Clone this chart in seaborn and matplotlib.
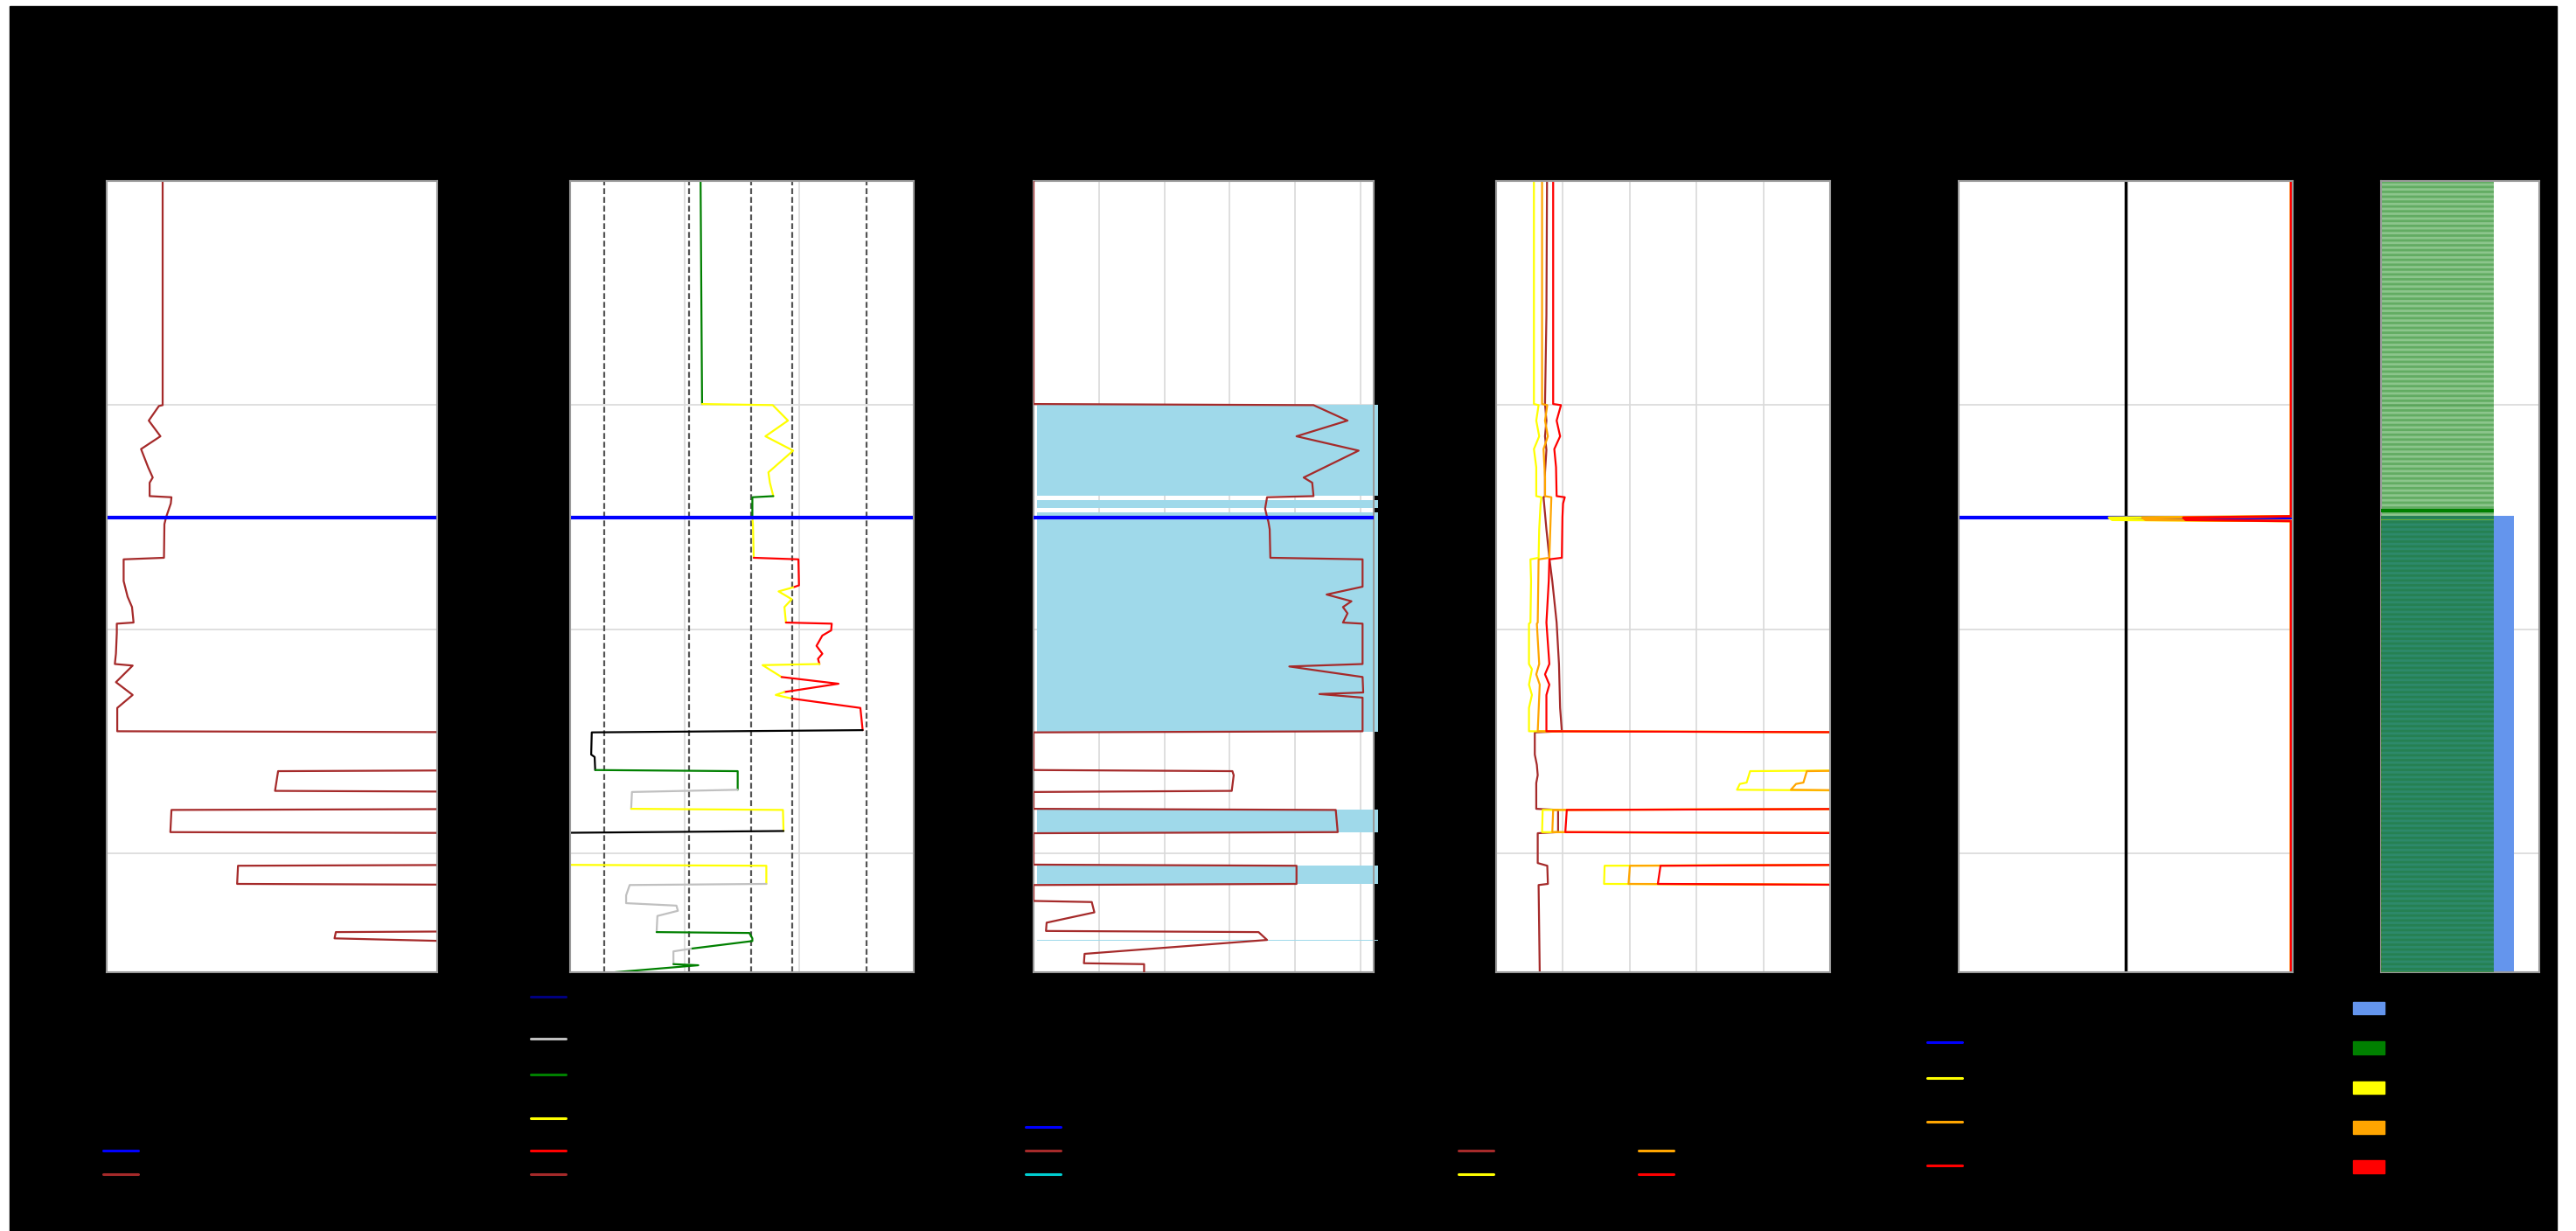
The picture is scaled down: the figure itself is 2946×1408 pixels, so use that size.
import numpy as np
import pandas as pd
import matplotlib
matplotlib.use("Agg")
import matplotlib.pyplot as plt
from matplotlib.lines import Line2D
from matplotlib.patches import Patch, Rectangle
import seaborn as sns

sns.set_style("whitegrid")
plt.rcParams["font.family"] = ["DejaVu Sans"]
plt.rcParams["hatch.linewidth"] = 2.0

# ---- depth frame ----
depth_top, depth_base = 1000.0, 1353.0
depth_grid = [1100, 1200, 1300]
marker_depth = 1150.0

# ---- track 1 : gamma ray ----
gr_depth = [1000.0, 1100.0, 1100.4, 1106.9, 1113.9, 1119.6, 1127.7, 1132.3, 1134.6, 1140.6,
            1141.1, 1143.9, 1149.9, 1153.1, 1168.1, 1168.8, 1178.5, 1185.5, 1190.1, 1197.0,
            1197.5, 1201.6, 1210.9, 1215.5, 1216.2, 1223.6, 1229.3, 1235.1, 1245.5, 1246.0,
            1262.8, 1263.3, 1272.1, 1272.6, 1280.1, 1280.6, 1290.5, 1291.0, 1305.0, 1305.5,
            1313.6, 1314.1, 1334.6, 1335.1, 1337.9, 1340.2, 1353.0]
gr_value = [25.4, 25.4, 23.7, 19.1, 24.4, 15.6, 18.8, 20.9, 19.5, 19.5,
            29.4, 29.1, 27.0, 26.2, 26.0, 7.7, 7.7, 9.5, 11.5, 12.2,
            4.6, 4.6, 4.2, 3.7, 11.8, 4.2, 11.8, 4.8, 4.8, 200,
            200, 77.8, 76.4, 200, 200, 29.4, 28.9, 200, 200, 59.6,
            59.2, 200, 200, 104.0, 103.4, 200, 200]

# ---- track 2 : resistivity coloured by class ----
res_depth = [1000.0, 1046.9, 1099.5, 1100.0, 1106.9, 1113.9, 1120.3, 1130.0, 1134.6, 1140.6,
             1141.1, 1149.9, 1153.1, 1168.1, 1168.8, 1180.4, 1181.3, 1183.1, 1186.6, 1190.1,
             1197.0, 1197.5, 1200.5, 1202.8, 1207.4, 1210.9, 1213.2, 1215.5, 1216.0, 1221.3,
             1224.3, 1228.0, 1229.3, 1230.9, 1235.1, 1245.0, 1246.0, 1255.9, 1257.0, 1262.8,
             1263.3, 1271.6, 1272.6, 1280.1, 1280.6, 1290.0, 1291.0, 1305.0, 1305.5, 1313.6,
             1314.1, 1318.7, 1322.2, 1323.3, 1325.6, 1327.9, 1335.1, 1335.5, 1337.9, 1339.1,
             1342.5, 1343.7, 1349.4, 1349.9, 1353.0]
res_value = [1.139, 1.145, 1.152, 1.769, 1.902, 1.705, 1.947, 1.731, 1.744, 1.774,
             1.591, 1.591, 1.596, 1.603, 1.993, 1.998, 1.947, 1.820, 1.935, 1.871,
             1.884, 2.284, 2.279, 2.202, 2.151, 2.202, 2.164, 2.177, 1.680, 1.846,
             2.343, 1.870, 1.795, 1.935, 2.534, 2.554, 0.189, 0.184, 0.214, 0.219,
             1.463, 1.463, 0.540, 0.533, 1.858, 1.863, -0.5, -0.5, 1.713, 1.713,
             0.520, 0.489, 0.489, 0.928, 0.941, 0.762, 0.755, 1.565, 1.591, 1.591,
             1.055, 0.902, 0.902, 1.119, 0.393]
res_class = ["green", "green", "yellow", "yellow", "yellow", "yellow", "yellow", "yellow", "yellow", "green",
             "green", "yellow", "yellow", "red", "red", "red", "yellow", "yellow", "yellow", "yellow",
             "red", "red", "red", "red", "red", "red", "red", "yellow", "yellow", "red",
             "red", "yellow", "yellow", "red", "red", "black", "black", "black", "black", "green",
             "green", "silver", "silver", "yellow", "yellow", "black", "yellow", "yellow", "yellow", "silver",
             "silver", "silver", "silver", "silver", "silver", "silver", "green", "green", "green", "green",
             "silver", "silver", "green", "green", "green"]
res_cutoffs = [0.30, 1.04, 1.58, 1.94, 2.59]

# ---- track 3 : porosity ----
phi_depth = [1000.0, 1099.5, 1100.0, 1106.9, 1113.9, 1120.3, 1132.3, 1134.6, 1140.6, 1141.1,
             1146.2, 1149.9, 1152.0, 1155.4, 1168.1, 1168.8, 1181.0, 1184.5, 1187.5, 1190.1,
             1192.9, 1197.0, 1197.5, 1215.5, 1216.6, 1221.3, 1228.2, 1228.9, 1230.5, 1245.5,
             1246.0, 1262.8, 1263.3, 1265.1, 1272.1, 1272.6, 1280.1, 1280.6, 1290.5, 1291.0,
             1305.0, 1305.5, 1313.6, 1314.1, 1321.2, 1321.7, 1326.3, 1330.9, 1334.6, 1335.1,
             1338.6, 1344.8, 1349.0, 1349.4, 1353.0]
phi_value = [0.0, 0.0, 0.428, 0.480, 0.402, 0.497, 0.413, 0.426, 0.428, 0.357,
             0.354, 0.357, 0.359, 0.361, 0.362, 0.503, 0.503, 0.448, 0.486, 0.473,
             0.480, 0.473, 0.503, 0.503, 0.391, 0.503, 0.504, 0.437, 0.503, 0.503,
             0.0, 0.0, 0.304, 0.306, 0.303, 0.0, 0.0, 0.462, 0.465, 0.0,
             0.0, 0.402, 0.402, 0.0, 0.0, 0.089, 0.093, 0.020, 0.019, 0.344,
             0.357, 0.078, 0.077, 0.169, 0.169]
phi_fill_top = [1100.0, 1142.5, 1148.0, 1280.6, 1305.5, 1338.4]
phi_fill_base = [1140.6, 1146.0, 1245.8, 1290.5, 1313.6, 1338.8]

# ---- track 4 : four saturation-type curves ----
vsh_depth = [1000.0, 1060.0, 1099.5, 1106.9, 1113.9, 1120.0, 1130.0, 1140.6, 1141.1, 1155.4,
             1168.1, 1178.5, 1197.0, 1215.5, 1235.1, 1245.5, 1246.0, 1255.9, 1260.5, 1265.1,
             1268.6, 1280.1, 1280.6, 1290.5, 1291.0, 1304.3, 1305.5, 1313.6, 1314.1, 1353.0]
vsh_value = [7.62, 7.53, 7.32, 7.53, 7.32, 7.53, 7.32, 7.32, 7.10, 7.53,
             7.97, 8.41, 9.06, 9.41, 9.58, 9.84, 5.79, 5.79, 6.10, 6.23,
             6.01, 6.01, 9.28, 9.28, 6.23, 6.23, 7.66, 7.75, 6.36, 6.53]
sw1_depth = [1000.0, 1099.5, 1100.0, 1106.9, 1113.9, 1119.6, 1127.7, 1140.6, 1141.1, 1143.9,
             1155.4, 1168.1, 1168.8, 1178.5, 1197.0, 1197.5, 1215.5, 1217.8, 1224.7, 1229.3,
             1235.1, 1245.5, 1246.0, 1262.8, 1263.3, 1268.4, 1269.0, 1271.6, 1272.1, 1280.1,
             1280.6, 1290.5, 1291.0, 1305.0, 1305.5, 1313.6, 1314.1, 1353.0]
sw1_value = [5.66, 5.66, 6.36, 6.01, 6.45, 5.66, 6.01, 6.01, 6.79, 6.66,
             6.45, 6.36, 5.14, 5.23, 5.14, 4.92, 4.92, 5.36, 4.92, 5.36,
             4.92, 4.92, 60, 60, 38.02, 37.5, 36.49, 36.06, 60, 60,
             6.97, 6.88, 60, 60, 16.24, 16.16, 60, 60]
sw2_depth = [1000.0, 1099.5, 1100.0, 1106.9, 1113.9, 1119.6, 1132.3, 1140.6, 1141.1, 1168.1,
             1168.8, 1197.0, 1197.5, 1215.5, 1220.1, 1224.7, 1245.5, 1246.0, 1262.8, 1263.3,
             1268.4, 1269.0, 1271.6, 1272.1, 1280.1, 1280.6, 1290.5, 1291.0, 1305.0, 1305.5,
             1313.6, 1314.1, 1353.0]
sw2_value = [6.88, 6.88, 7.66, 7.32, 7.75, 7.10, 7.32, 7.32, 8.27, 7.97,
             6.36, 6.23, 6.10, 6.45, 6.01, 6.53, 6.23, 60, 60, 46.51,
             46.0, 44.9, 44.12, 60, 60, 8.54, 8.41, 60, 60, 20.03,
             19.82, 60, 60]
sw3_depth = [1000.0, 1099.5, 1100.0, 1106.9, 1113.9, 1119.6, 1127.7, 1140.6, 1141.1, 1143.9,
             1149.9, 1168.1, 1168.8, 1178.5, 1197.0, 1215.5, 1220.1, 1224.7, 1229.3, 1245.5,
             1246.0, 1280.1, 1280.6, 1290.5, 1291.0, 1305.0, 1305.5, 1313.6, 1314.1, 1353.0]
sw3_value = [8.54, 8.54, 9.71, 9.06, 9.58, 8.71, 8.97, 9.06, 10.28, 10.02,
             9.93, 9.84, 7.97, 7.88, 7.53, 7.97, 7.32, 7.97, 7.53, 7.53,
             60, 60, 10.58, 10.36, 60, 60, 24.61, 24.21, 60, 60]

# ---- track 5 : flags ----
flag_depth = [1000.0, 1149.6, 1150.2, 1151.2, 1151.7, 1353.0]
flag_low = [0.99, 0.99, -0.10, -0.08, 0.99, 0.99]
flag_mid = [0.99, 0.99, 0.10, 0.12, 0.99, 0.99]
flag_high = [0.99, 0.99, 0.345, 0.36, 0.99, 0.99]

# ---- track 6 : lithology ----
lith_top = [1000.0, 1146.3, 1149.2, 1151.0, 1149.4]
lith_base = [1151.6, 1147.9, 1149.5, 1151.3, 1353.0]
lith_kind = ["shale", "shale_band", "thin", "thin", "sand"]

W, H = 2946, 1408
fig = plt.figure(figsize=(W / 100, H / 100), dpi=100, facecolor="white")
fig.patches.append(Rectangle((11 / W, 0), (2924 - 11) / W, (H - 7) / H,
                             transform=fig.transFigure, color="black", zorder=-10))

track_x = [(122, 500), (652, 1045), (1182, 1571), (1711, 2093), (2240, 2622), (2723, 2904)]
axes = []
for x0, x1 in track_x:
    ax = fig.add_axes([x0 / W, 1 - 1112 / H, (x1 - x0) / W, 905 / H])
    ax.set_facecolor("white")
    ax.set_ylim(depth_base, depth_top)
    ax.set_yticks(depth_grid)
    ax.grid(True, color="#d9d9d9", lw=1.2)
    ax.tick_params(length=0, colors="black", labelcolor="black")
    for s in ax.spines.values():
        s.set_color("#9a9a9a")
        s.set_linewidth(1.5)
    axes.append(ax)
ax1, ax2, ax3, ax4, ax5, ax6 = axes

brown = "#A52A2A"
lw = 1.6

# track 1
ax1.set_xlim(0, 150)
ax1.grid(False, axis="x")
sns.lineplot(x=gr_value, y=gr_depth, orient="y", sort=False, estimator=None,
             color=brown, lw=lw, ax=ax1)
ax1.axhline(marker_depth, color="blue", lw=3)
ax1.set_title("Gamma Ray", color="black")

# track 2
ax2.set_xlim(0, 3)
ax2.set_xticks([1, 2])
res_colors = {"green": "green", "yellow": "yellow", "red": "red", "black": "black", "silver": "silver"}
for c in res_cutoffs:
    ax2.axvline(c, color="#555555", ls=(0, (3, 1.5)), lw=1.6, zorder=1)
res_df = pd.DataFrame({"depth": res_depth, "value": res_value, "cls": res_class})
runs = []
start = 0
for i in range(1, len(res_df)):
    if res_class[i] != res_class[start]:
        runs.append((start, i))
        start = i
runs.append((start, len(res_df) - 1))
for a, b in runs:
    seg = res_df.iloc[a:b + 1]
    sns.lineplot(data=seg, x="value", y="depth", orient="y", sort=False, estimator=None,
                 color=res_colors[res_class[a]], lw=lw, ax=ax2)
ax2.axhline(marker_depth, color="blue", lw=3)
ax2.set_title("Resistivity", color="black")

# track 3
ax3.set_xlim(0, 0.52)
ax3.set_xticks([0.1, 0.2, 0.3, 0.4, 0.5])
for t, b in zip(phi_fill_top, phi_fill_base):
    ax3.fill_betweenx([t, b], 0.006, 0.527, color="#9fd9ea", lw=0, zorder=1, clip_on=False)
sns.lineplot(x=phi_value, y=phi_depth, orient="y", sort=False, estimator=None,
             color=brown, lw=lw, ax=ax3, zorder=3)
ax3.axhline(marker_depth, color="blue", lw=3, zorder=4)
ax3.set_title("Porosity", color="black")

# track 4
ax4.set_xlim(0, 50)
ax4.set_xticks([10, 20, 30, 40])
for d, v, c in [(vsh_depth, vsh_value, brown), (sw1_depth, sw1_value, "yellow"),
                (sw2_depth, sw2_value, "orange"), (sw3_depth, sw3_value, "red")]:
    sns.lineplot(x=v, y=d, orient="y", sort=False, estimator=None, color=c, lw=lw, ax=ax4)
ax4.set_title("Saturation", color="black")

# track 5
ax5.set_xlim(-1, 1)
ax5.grid(False, axis="x")
ax5.axvline(0, color="black", lw=2.5)
ax5.axhline(marker_depth, color="blue", lw=3)
for v, c in [(flag_low, "yellow"), (flag_mid, "orange"), (flag_high, "red")]:
    sns.lineplot(x=v, y=flag_depth, orient="y", sort=False, estimator=None, color=c, lw=2, ax=ax5)
ax5.set_title("Flags", color="black")

# track 6
ax6.set_xlim(0, 1)
ax6.grid(False, axis="x")
for t, b, k in zip(lith_top, lith_base, lith_kind):
    if k == "shale":
        ax6.fill_betweenx([t, b], 0, 0.71, color="green", alpha=0.45, lw=0, zorder=2)
        ax6.fill_betweenx([t, b], 0, 0.71, facecolor="none", edgecolor="#2f8f2f",
                          hatch="---", alpha=0.45, lw=0, zorder=2)
    elif k == "shale_band":
        ax6.fill_betweenx([t, b], 0, 0.71, color="green", lw=0, zorder=3)
    elif k == "thin":
        ax6.fill_betweenx([t, b], 0, 0.71, color="#e8e86a", lw=0, zorder=3)
    else:
        ax6.fill_betweenx([t, b], 0, 0.84, color="cornflowerblue", lw=0, zorder=2)
        ax6.fill_betweenx([t, b], 0, 0.71, color="green", alpha=0.55, lw=0, zorder=3)
        ax6.fill_betweenx([t, b], 0, 0.71, facecolor="none", edgecolor="#1f7a3a",
                          hatch="---", alpha=0.5, lw=0, zorder=3)
ax6.set_title("Lithology", color="black")

for ax in axes:
    ax.set_xlabel("")
    ax.set_ylabel("")
    ax.set_xticklabels([])
    if ax is not ax1:
        ax.set_yticklabels([])


def add_legend(handles, labels, x_px, bottom_px, **kw):
    opts = dict(loc="lower left", bbox_to_anchor=(x_px / W, 1 - bottom_px / H),
                frameon=False, fontsize=15, labelcolor="black", borderpad=0,
                borderaxespad=0, handletextpad=0.8, labelspacing=0.34, handlelength=1.9)
    opts.update(kw)
    return fig.legend(handles, labels, **opts)


def ln(c):
    return Line2D([], [], color=c, lw=2.2)


add_legend([ln("blue"), ln(brown)], ["Top", "GR"], 118, 1354)
add_legend([ln("navy"), ln("silver"), ln("green"), ln("yellow"), ln("red"), ln(brown)],
           ["\nNo data\nclass", "Tight", "Shale\nzone", "Marginal\nreservoir",
            "Pay", "Resistivity"], 607, 1354)
add_legend([ln("blue"), ln(brown), ln("#00CED1")], ["Top", "PHIE", "Porosity fill"], 1173, 1354)
add_legend([ln(brown), ln("yellow")], ["VSH", "SW 1"], 1668, 1354)
add_legend([ln("orange"), ln("red")], ["SW 2", "SW 3"], 1874, 1354)
add_legend([ln("blue"), ln("yellow"), ln("orange"), ln("red")],
           ["Top", "Flag\nlow", "Flag\nmedium", "Flag\nhigh"], 2204, 1354)
add_legend([Patch(color=c) for c in ["cornflowerblue", "green", "yellow", "orange", "red"]],
           ["Sand", "Shale", "Silt", "Carbonate", "Coal"], 2691, 1346,
           labelspacing=1.22, handlelength=1.75)

fig.suptitle("Well log interpretation", color="black", fontsize=24, y=0.93)
fig.savefig("out.png", dpi=100, facecolor=fig.get_facecolor())
